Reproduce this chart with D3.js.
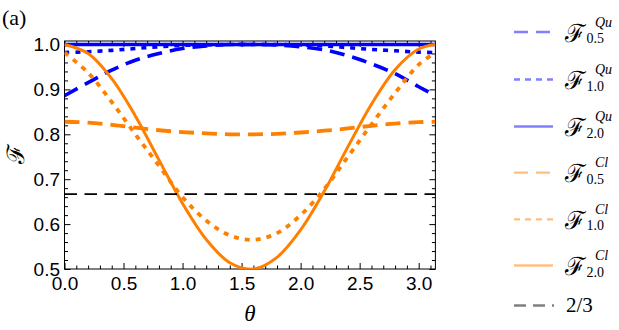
<!DOCTYPE html>
<html>
<head>
<meta charset="utf-8">
<script src="https://cdn.jsdelivr.net/npm/d3@7"></script>
<style>
  body { margin: 0; background: #fff; }
  svg { display: block; }
  .tick text { font-family: 'Liberation Sans', Arial, sans-serif; font-size: 19px; fill: #000; }
  .serif { font-family: 'Liberation Serif', 'Times New Roman', serif; }
</style>
</head>
<body>
<svg class="entry-point" width="619" height="330"></svg>
<script>
/* data */
const theta = [0, 0.2, 0.4, 0.6, 0.8, 1.0, 1.2, 1.4, 1.6, 1.8, 2.0, 2.2, 2.4, 2.6, 2.8, 3.0, 3.1416]
const quHalf = [0.886, 0.915, 0.943, 0.965, 0.980, 0.991, 0.997, 1.0, 1.0, 0.999, 0.995, 0.988, 0.975, 0.957, 0.935, 0.906, 0.886]
const quOne = [0.982, 0.984, 0.987, 0.991, 0.995, 0.998, 0.999, 1.0, 1.0, 1.0, 0.999, 0.997, 0.993, 0.989, 0.986, 0.983, 0.982]
const quTwo = [1.0, 1.0, 1.0, 1.0, 1.0, 1.0, 1.0, 1.0, 1.0, 1.0, 1.0, 1.0, 1.0, 1.0, 1.0, 1.0, 1.0]
const clHalf = [0.828, 0.826, 0.821, 0.815, 0.809, 0.805, 0.802, 0.800, 0.800, 0.801, 0.804, 0.808, 0.813, 0.819, 0.824, 0.827, 0.828]
const clOne = [0.982, 0.937, 0.872, 0.800, 0.730, 0.660, 0.608, 0.575, 0.565, 0.580, 0.620, 0.678, 0.750, 0.822, 0.892, 0.955, 0.982]
const clTwo = [1.0, 0.980, 0.924, 0.841, 0.743, 0.646, 0.566, 0.514, 0.500, 0.526, 0.587, 0.673, 0.772, 0.867, 0.944, 0.990, 1.0]
const classical = 2 / 3

const xTicks = [0, 0.5, 1.0, 1.5, 2.0, 2.5, 3.0]
const yTicks = [0.5, 0.6, 0.7, 0.8, 0.9, 1.0]
const legendSubs = ['0.5', '1.0', '2.0', '0.5', '1.0', '2.0']
const legendSups = ['Qu', 'Qu', 'Qu', 'Cl', 'Cl', 'Cl']

const blue = '#0000ff', orange = '#ff8000'

const svg = d3.select('.entry-point')
const pLeft = 64.5, pRight = 435.4, pTop = 41, pBottom = 269

const x = d3.scaleLinear().domain([0, Math.PI]).range([pLeft, pRight])
const y = d3.scaleLinear().domain([0.5, 1.0]).range([pBottom, 44.5])

svg.append('defs').append('clipPath').attr('id', 'plot')
  .append('rect').attr('x', pLeft).attr('y', pTop).attr('width', pRight - pLeft).attr('height', pBottom - pTop)

// minor ticks
const xMinor = d3.range(0, 3.15, 0.1).filter(v => Math.abs(v * 2 - Math.round(v * 2)) > 0.01)
const yMinor = d3.range(0.5, 1.001, 0.02).filter(v => Math.abs(v * 10 - Math.round(v * 10)) > 0.01)

function frameAxis (axis, scale, values, size, tx, ty, labels, pad) {
  const g = svg.append('g').attr('transform', `translate(${tx},${ty})`)
    .call(axis(scale).tickValues(values).tickSize(-size).tickSizeOuter(0).tickPadding(pad || 3)
      .tickFormat(labels ? d3.format('.1f') : ''))
  g.select('.domain').remove()
  g.selectAll('line').attr('stroke', '#000').attr('stroke-width', 1)
  return g
}

frameAxis(d3.axisBottom, x, xTicks, 6, 0, pBottom, true, 8)
frameAxis(d3.axisBottom, x, xMinor, 3.5, 0, pBottom)
frameAxis(d3.axisTop, x, xTicks, 6, 0, pTop)
frameAxis(d3.axisTop, x, xMinor, 3.5, 0, pTop)
frameAxis(d3.axisLeft, y, yTicks, 6, pLeft, 0, true, 4.5)
frameAxis(d3.axisLeft, y, yMinor, 3.5, pLeft, 0)
frameAxis(d3.axisRight, y, yTicks, 6, pRight, 0)
frameAxis(d3.axisRight, y, yMinor, 3.5, pRight, 0)

svg.append('rect').attr('x', pLeft).attr('y', pTop).attr('width', pRight - pLeft).attr('height', pBottom - pTop)
  .attr('fill', 'none').attr('stroke', '#000').attr('stroke-width', 1)

const series = [
  { values: quHalf, color: blue, width: 3.6, dash: '15,8' },
  { values: quOne, color: blue, width: 3.6, dash: '5,6' },
  { values: quTwo, color: blue, width: 3.6, dash: null },
  { values: clHalf, color: orange, width: 3.8, dash: '15,8' },
  { values: clOne, color: orange, width: 3.8, dash: '5,6' },
  { values: clTwo, color: orange, width: 3, dash: null }
]

const line = d3.line().x(d => x(d[0])).y(d => y(d[1])).curve(d3.curveCatmullRom.alpha(0.5))

const plot = svg.append('g').attr('clip-path', 'url(#plot)')
plot.selectAll('path.curve')
  .data(series).enter().append('path')
  .attr('class', 'curve')
  .attr('d', s => line(theta.map((t, i) => [t, s.values[i]])))
  .attr('fill', 'none')
  .attr('stroke', s => s.color)
  .attr('stroke-width', s => s.width)
  .attr('stroke-dasharray', s => s.dash)

plot.append('line')
  .attr('x1', x(0)).attr('x2', x(Math.PI))
  .attr('y1', y(classical)).attr('y2', y(classical))
  .attr('stroke', '#000').attr('stroke-width', 1.8).attr('stroke-dasharray', '12.5,7.5')

// labels
svg.append('text').attr('class', 'serif').attr('x', 2).attr('y', 25).attr('font-size', 22).text('(a)')
svg.append('text').attr('class', 'serif').attr('x', (pLeft + pRight) / 2).attr('y', 321)
  .attr('text-anchor', 'middle').attr('font-size', 23).attr('font-style', 'italic').text('θ')
svg.append('text').attr('class', 'serif')
  .attr('transform', 'translate(24,154) rotate(-90)')
  .attr('text-anchor', 'middle').attr('font-size', 24).text('ℱ')

// legend
const legendY = [32, 79.5, 126.5, 172.7, 219.3, 265.5]
const legendColors = ['#8080ff', '#8080ff', '#8080ff', '#ffbf80', '#ffbf80', '#ffbf80']
const legendDash = ['14,8', '6,5', null, '14,8', '6,5', null]

const legend = svg.append('g')
legend.selectAll('line')
  .data(legendY).enter().append('line')
  .attr('x1', 514).attr('x2', 553)
  .attr('y1', d => d).attr('y2', d => d)
  .attr('stroke', (d, i) => legendColors[i])
  .attr('stroke-width', 2.3)
  .attr('stroke-dasharray', (d, i) => legendDash[i])

const entries = legend.selectAll('g.entry')
  .data(legendY).enter().append('g')
  .attr('class', 'entry serif')
  .attr('transform', d => `translate(565,${d})`)
const scriptF = entries.append('text').attr('x', 0).attr('y', 9.5).attr('font-size', 25).text('ℱ')
const fw = scriptF.node().getComputedTextLength()
entries.append('text').attr('x', fw + 0.5).attr('y', 11).attr('font-size', 14).text((d, i) => legendSubs[i])
entries.append('text').attr('x', fw + 9).attr('y', -5.5).attr('font-size', 14).attr('font-style', 'italic')
  .text((d, i) => legendSups[i])

legend.append('line')
  .attr('x1', 514).attr('x2', 554).attr('y1', 305.5).attr('y2', 305.5)
  .attr('stroke', '#808080').attr('stroke-width', 2.3).attr('stroke-dasharray', '12,7')
legend.append('text').attr('class', 'serif').attr('x', 566).attr('y', 312).attr('font-size', 21).text('2/3')
</script>
</body>
</html>
